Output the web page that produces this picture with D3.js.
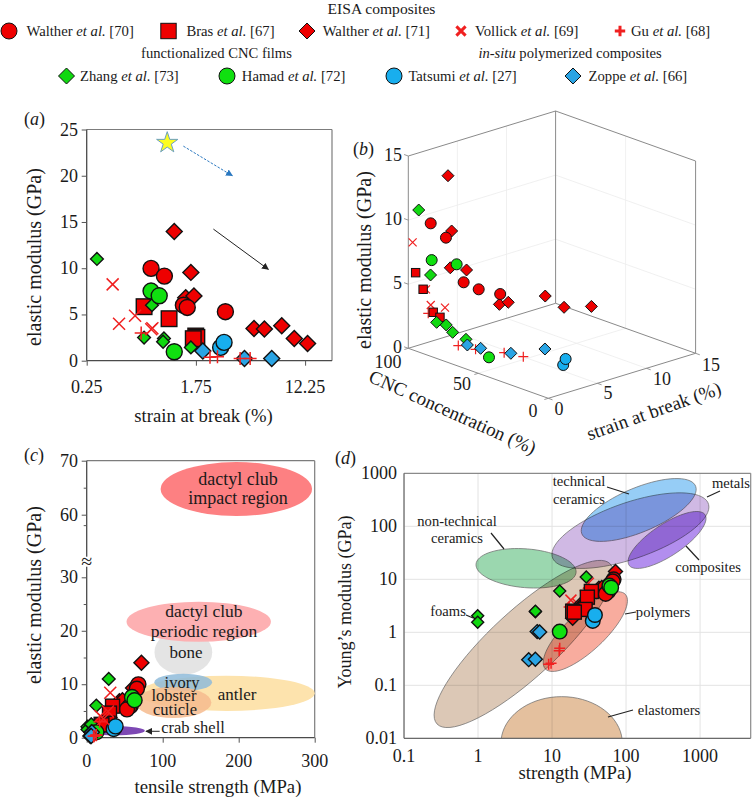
<!DOCTYPE html>
<html><head><meta charset="utf-8">
<script src="https://cdn.jsdelivr.net/npm/d3@7"></script>
<style>
html,body{margin:0;padding:0;background:#fff}
svg{display:block}
text{font-family:"Liberation Serif","Times New Roman",serif;fill:#1a1a1a}
</style></head><body>
<svg id="fig" width="754" height="797"></svg>
<script>
// ---------- series ----------
const orderBehind = ["vollick","gu","w71","w70","bras","zhang","hamad","zoppe","tatsumi"];
const orderOnTop = ["w71","w70","bras","zhang","hamad","zoppe","tatsumi","vollick","gu"];
const seriesAuthors = {w70:"Walther",bras:"Bras",w71:"Walther",vollick:"Vollick",gu:"Gu",zhang:"Zhang",hamad:"Hamad",tatsumi:"Tatsumi",zoppe:"Zoppe"};
const seriesRefs = {w70:"[70]",bras:"[67]",w71:"[71]",vollick:"[69]",gu:"[68]",zhang:"[73]",hamad:"[72]",tatsumi:"[27]",zoppe:"[66]"};
const seriesShape = {w70:"circle",bras:"square",w71:"diamond",vollick:"x",gu:"plus",zhang:"diamondS",hamad:"circle",tatsumi:"circle",zoppe:"diamond"};
const seriesColor = {w70:"#ee0000",bras:"#ee0000",w71:"#ee0000",vollick:"#f02020",gu:"#f02020",zhang:"#10d810",hamad:"#10e010",tatsumi:"#18aeee",zoppe:"#2aa4e4"};

// panel (a): [strain at break %, elastic modulus GPa]
const aW70 = [[0.787,9.98],[0.998,9.15],[1.40,6.0],[1.50,5.76],[2.96,5.3]];
const aBras = [[0.695,5.84],[1.085,4.54],[1.745,2.67],[1.78,2.52],[1.67,2.38]];
const aW71 = [[1.19,13.98],[1.60,9.55],[1.46,6.8],[1.69,6.99],[4.93,3.49],[5.93,3.42],[8.08,3.78],[10.1,2.41],[12.8,1.87]];
const aVollick = [[0.397,8.25],[0.445,4.0],[0.592,4.86],[0.806,3.5],[0.79,3.4]];
const aGu = [[0.66,3.0],[2.25,0.36],[2.57,0.43],[3.85,0.25],[4.6,0.25]];
const aZhang = [[0.30,11.0],[0.80,6.0],[0.695,2.5],[0.99,2.4],[0.975,2.05],[1.6,1.44]];
const aHamad = [[0.787,7.53],[0.91,7.02],[1.19,0.97]];
const aTatsumi = [[2.72,1.44],[2.89,1.98]];
const aZoppe = [[1.98,1.04],[4.16,0.25],[6.76,0.25]];
const aStar = [1.05,23.56];
const aArrowBlue = [[1.40,23.2],[3.35,20.0]];
const aArrowBlack = [[2.39,14.23],[6.37,9.87]];

// panel (b): [CNC %, strain %, modulus GPa]
const bW70 = [[89.4,0.77,9.98],[80.4,1.04,9.15],[70,1.36,6.0],[60.8,1.58,5.76],[55,2.94,5.3]];
const bBras = [[98.4,0.52,5.84],[96,0.94,4.54],[93.7,1.64,2.67],[89.8,1.77,2.4]];
const bW71 = [[79.5,1.12,14],[80.9,1.69,9.5],[79,1.28,6.8],[68.5,1.44,7],[69,4.86,3.5],[69.7,5.86,3.4],[59,8.1,3.78],[59.6,10.1,2.41],[59,12.8,1.87]];
const bVollick = [[98.8,0.27,8.25],[90.6,0.46,4.86],[89.5,0.79,3.6],[83.4,1.37,3.5]];
const bGu = [[89.7,0.56,3.0],[80.5,2.31,0.43],[71.8,2.83,0.36],[60.3,4.1,0.25],[49.7,4.54,0.25]];
const bZhang = [[93.6,0.15,11],[88.8,0.67,6],[84.1,0.62,2.5],[79.5,0.94,2.4],[74.3,0.85,2.05],[70.8,1.71,1.44]];
const bHamad = [[83.3,0,7.53],[77.6,1.73,7.02],[50.3,1.13,0.97]];
const bTatsumi = [[11.1,3.1,1.44],[9.3,3.09,1.98]];
const bZoppe = [[71.7,1.98,0.9],[61.8,1.92,1.04],[57.4,4.37,0.25],[50.8,6.9,0.25]];

// panels (c) and (d): [tensile strength MPa, modulus GPa]
const sW70 = [[68,9.98],[66,9.15],[58,6.0],[56,5.76],[53,5.3]];
const sBras = [[34,5.9],[30,4.6],[28,2.7],[19,2.5],[20,2.4]];
const sW71 = [[72,14],[61,9.3],[43,6.8],[47,7],[25,3.5],[24,3.0],[30,3.8],[20,2.4],[19,1.85]];
const sVollick = [[18,4.05],[31,8.4],[28,4.9],[22,3.5]];
const sGu = [[12.7,0.5],[12.5,0.45],[9,0.25],[9.7,0.26],[17,3]];
const sZhang = [[0.99,2.06],[0.99,1.54],[5.96,2.45],[5.96,2.5],[12.7,6],[29,11]];
const sHamad = [[12.7,1.03],[59.6,7.6],[63,7]];
const sTatsumi = [[35.5,1.64],[38,2.12]];
const sZoppe = [[6.3,1.03],[6.8,1.01],[4.84,0.305],[5.95,0.31]];

// panel (c) biological regions: name, centre x MPa, centre y GPa, half-width, half-height
const cRegions = [
  {k:"antler",x:184,y:8.3,rx:116,ry:3.3,c:"#fde3ad"},
  {k:"impact",x:196.9,y:64.75,rx:99.6,ry:5.37,c:"#fd8082"},
  {k:"bone",x:127.2,y:16,rx:38,ry:4.2,c:"#e4e4e4"},
  {k:"periodic",x:147.4,y:21.7,rx:95,ry:3.74,c:"#fdb0b2"},
  {k:"ivory",x:127,y:10.35,rx:38,ry:1.6,c:"#8fbbd9"},
  {k:"lobster",x:114,y:6.6,rx:50,ry:2.9,c:"#f6bb8e"},
  {k:"crab",x:37,y:1.3,rx:39.5,ry:0.87,c:"#7d48b4"}
];
const cLabels = [
  ["dactyl club",238,485,18],["impact region",238,504,18],
  ["dactyl club",204,617,17.5],["periodic region",204,637,17.5],
  ["bone",186,658,17],["ivory",182,688,16.5],["antler",237,700,17],
  ["lobster",174,701,16.5],["cuticle",175,715,16.5],["crab shell",193,733,16.5]
];
const cTicks = [0,10,20,30,60,70];
const cMinor = [5,15,25,55,65];

// panel (d) materials: centre in log10 units with two semi-axis vectors (decades)
const dRegions = [
  {k:"nontech",cx:0.649,cy:1.208,a:[0.676,-0.075],b:[0.018,0.365],c:"rgb(155,215,175)"},
  {k:"metals",cx:2.059,cy:1.918,a:[1.045,0.535],b:[-0.18,0.472],c:"rgb(208,185,228)"},
  {k:"tech",cx:2.171,cy:2.308,a:[0.743,0.503],b:[-0.225,0.314],c:"rgb(150,205,246)"},
  {k:"composites",cx:2.554,cy:1.742,a:[0.495,0.503],b:[-0.18,0.189],c:"rgb(178,142,238)"},
  {k:"foams",cx:0.617,cy:-0.22,a:[1.171,1.509],b:[-0.306,0.459],c:"rgb(220,200,182)"},
  {k:"polymers",cx:1.45,cy:0.013,a:[0.54,0.704],b:[-0.18,0.264],c:"rgb(248,172,158)"},
  {k:"elastomers",cx:1.13,cy:-2.094,a:[0.82,0],b:[0,0.88],c:"rgb(228,192,158)"}
];
const dTickVals = [0.1,1,10,100,1000];
const dYTickVals = [0.01,0.1,1,10,100,1000];

// ---------- layout ----------
const svg = d3.select("#fig");
const FRAME = "#7c7c7c";
const AXIS = "#4a4a4a";
const TICK = 18;

function addMarker(id,color){
  svg.append("defs").append("marker").attr("id",id).attr("viewBox","0 0 10 10").attr("refX",9).attr("refY",5)
    .attr("markerWidth",7).attr("markerHeight",7).attr("markerUnits","userSpaceOnUse").attr("orient","auto")
    .append("path").attr("d","M0,0L10,5L0,10z").attr("fill",color);
}
addMarker("arBlue","#2a78c0"); addMarker("arBlack","#222");

function drawMark(g,key,x,y,s){
  const shape=seriesShape[key], col=seriesColor[key], sw=s.sw||1.4;
  if(shape==="circle"){
    g.append("circle").attr("cx",x).attr("cy",y).attr("r",s.r).attr("fill",col).attr("stroke","#111").attr("stroke-width",sw);
  } else if(shape==="square"){
    g.append("rect").attr("x",x-s.q).attr("y",y-s.q).attr("width",2*s.q).attr("height",2*s.q).attr("fill",col).attr("stroke","#111").attr("stroke-width",sw);
  } else if(shape==="diamond"||shape==="diamondS"){
    const d=shape==="diamond"?s.d:s.ds;
    g.append("path").attr("d",`M${x},${y-d}L${x+d},${y}L${x},${y+d}L${x-d},${y}Z`).attr("fill",col).attr("stroke","#111").attr("stroke-width",sw);
  } else if(shape==="x"){
    const d=s.x;
    g.append("path").attr("d",`M${x-d},${y-d}L${x+d},${y+d}M${x-d},${y+d}L${x+d},${y-d}`).attr("fill","none").attr("stroke",col).attr("stroke-width",s.lw||1.6);
  } else {
    const d=s.p;
    g.append("path").attr("d",`M${x-d},${y}L${x+d},${y}M${x},${y-d}L${x},${y+d}`).attr("fill","none").attr("stroke",col).attr("stroke-width",s.lw||1.6);
  }
}
function plotSeries(g,order,tbl,px,py,s){
  order.forEach(k=>tbl[k].forEach(d=>drawMark(g,k,px(d),py(d),s)));
}
function txt(x,y,str,size,anchor,rot){
  const t=svg.append("text").attr("x",x).attr("y",y).attr("font-size",size).attr("text-anchor",anchor||"middle").text(str);
  if(rot!=null) t.attr("transform",`rotate(${rot} ${x} ${y})`);
  return t;
}
function panelTag(x,y,l){
  const t=svg.append("text").attr("x",x).attr("y",y).attr("font-size",18);
  t.append("tspan").text("(");t.append("tspan").attr("font-style","italic").text(l);t.append("tspan").text(")");
}
function seg(x1,y1,x2,y2,col,w){
  svg.append("line").attr("x1",x1).attr("y1",y1).attr("x2",x2).attr("y2",y2).attr("stroke",col).attr("stroke-width",w);
}
function boxAxes(P,col1,col2){
  seg(P.l,P.t,P.r,P.t,col1,1.2); seg(P.r,P.t,P.r,P.b,col1,1.2);
  seg(P.l,P.t,P.l,P.b,col2,1.3); seg(P.l,P.b,P.r,P.b,col2,1.3);
}
function styleAxis(g){ g.select(".domain").remove(); g.selectAll("line").attr("stroke","#555"); g.selectAll("text").remove(); }

// ---------- legend ----------
const legS={r:8,q:7.7,d:8,ds:8,x:4.6,p:5.2,lw:3,sw:1};
const legendRow1=[["w70",9,26.5],["bras",168.5,186.4],["w71",307,322.7],["vollick",461,475],["gu",620,631]];
const legendRow3=[["zhang",66.5,80],["hamad",227,241.8],["tatsumi",394,408.4],["zoppe",573,588.5]];
const lg=svg.append("g");
function legendRow(row,y){
  row.forEach(([k,mx,tx])=>{
    drawMark(lg,k,mx,y,legS);
    const t=lg.append("text").attr("x",tx).attr("y",y+4.5).attr("font-size",14.7);
    t.append("tspan").text(seriesAuthors[k]+" ");
    t.append("tspan").attr("font-style","italic").text("et al.");
    t.append("tspan").text(" "+seriesRefs[k]);
  });
}
txt(381.5,14,"EISA composites",15.6);
legendRow(legendRow1,31);
txt(216.5,58,"functionalized CNC films",14.6);
{const t=txt(570,58,"",14.6);t.append("tspan").attr("font-style","italic").text("in-situ");t.append("tspan").text(" polymerized composites");}
legendRow(legendRow3,76);

// ---------- panel (a) ----------
const A={l:86.7,r:332,t:129.5,b:360.7};
const ax=d3.scaleLog().base(7).domain([0.25,0.25*Math.pow(7,(A.r-A.l)/109.2)]).range([A.l,A.r]);
const ay=d3.scaleLinear().domain([0,25]).range([A.b,A.t]);
boxAxes(A,FRAME,AXIS);
const aXTicks=[0.25,1.75,12.25], aYTicks=[0,5,10,15,20,25];
svg.append("g").attr("transform",`translate(0,${A.b})`).call(d3.axisBottom(ax).tickValues(aXTicks).tickSize(5)).call(styleAxis);
svg.append("g").attr("transform",`translate(${A.l},0)`).call(d3.axisLeft(ay).tickValues(aYTicks).tickSize(5)).call(styleAxis);
aXTicks.forEach(v=>txt(ax(v),393,d3.format(".2f")(v),TICK));
aYTicks.forEach(v=>txt(78,ay(v)+6,v,TICK,"end"));
txt(203.5,422,"strain at break (%)",18.7);
txt(41,257,"elastic modulus (GPa)",20,"middle",-90);
panelTag(24,125,"a");
const aTbl={w70:aW70,bras:aBras,w71:aW71,vollick:aVollick,gu:aGu,zhang:aZhang,hamad:aHamad,tatsumi:aTatsumi,zoppe:aZoppe};
plotSeries(svg.append("g"),orderOnTop,aTbl,d=>ax(d[0]),d=>ay(d[1]),{r:8,q:7.8,d:8,ds:6.4,x:6,p:6.5,lw:1.5,sw:1.4});
svg.append("path").attr("d",d3.symbol(d3.symbolStar,140)()).attr("transform",`translate(${ax(aStar[0])},${ay(aStar[1])})`)
  .attr("fill","#fdfd20").attr("stroke","#6a9fc0").attr("stroke-width",1);
svg.append("line").attr("x1",ax(aArrowBlue[0][0])).attr("y1",ay(aArrowBlue[0][1])).attr("x2",ax(aArrowBlue[1][0])).attr("y2",ay(aArrowBlue[1][1]))
  .attr("stroke","#2a78c0").attr("stroke-width",1).attr("stroke-dasharray","2.5,1.5").attr("marker-end","url(#arBlue)");
svg.append("line").attr("x1",ax(aArrowBlack[0][0])).attr("y1",ay(aArrowBlack[0][1])).attr("x2",ax(aArrowBlack[1][0])).attr("y2",ay(aArrowBlack[1][1]))
  .attr("stroke","#222").attr("stroke-width",1).attr("marker-end","url(#arBlack)");

// ---------- panel (b) ----------
const bO={x:548.3,y:398.3};
const cDX=d3.scaleLinear().domain([0,100]).range([0,-140]);
const cDY=d3.scaleLinear().domain([0,100]).range([0,-50]);
const sDX=d3.scaleLinear().domain([0,15]).range([0,147.3]);
const sDY=d3.scaleLinear().domain([0,15]).range([0,-45]);
const mDY=d3.scaleLinear().domain([0,15]).range([0,-192.3]);
const bX=(c,s)=>bO.x+cDX(c)+sDX(s);
const bY=(c,s,m)=>bO.y+cDY(c)+sDY(s)+mDY(m);
const bg=svg.append("g");
function L3(p,q,col,w){bg.append("line").attr("x1",bX(p[0],p[1])).attr("y1",bY(...p)).attr("x2",bX(q[0],q[1])).attr("y2",bY(...q)).attr("stroke",col).attr("stroke-width",w);}
const bGrid="#ececec";
[5,10].forEach(m=>{L3([100,0,m],[100,15,m],bGrid,.8);L3([100,15,m],[0,15,m],bGrid,.8);});
[5,10].forEach(s=>{L3([100,s,0],[100,s,15],bGrid,.8);L3([100,s,0],[0,s,0],bGrid,.8);});
L3([50,15,0],[50,15,15],bGrid,.8);L3([50,0,0],[50,15,0],bGrid,.8);
const bEdge="#8a8a8a";
L3([100,0,0],[100,0,15],bEdge,1);L3([100,15,0],[100,15,15],bEdge,1);L3([0,15,0],[0,15,15],bEdge,1);
L3([100,0,15],[100,15,15],bEdge,1);L3([100,15,15],[0,15,15],bEdge,1);
L3([100,0,0],[100,15,0],bEdge,1);L3([100,15,0],[0,15,0],bEdge,1);L3([100,0,0],[0,0,0],bEdge,1);L3([0,0,0],[0,15,0],bEdge,1);
[0,50,100].forEach(c=>L3([c,0,0],[c,-0.4,0],bEdge,.9));
[0,5,10,15].forEach(s=>L3([0,s,0],[-3,s,0],bEdge,.9));
[0,5,10,15].forEach(m=>L3([100,0,m],[103,0,m],bEdge,.9));
const bTbl={w70:bW70,bras:bBras,w71:bW71,vollick:bVollick,gu:bGu,zhang:bZhang,hamad:bHamad,tatsumi:bTatsumi,zoppe:bZoppe};
plotSeries(bg,orderBehind,bTbl,d=>bX(d[0],d[1]),d=>bY(d[0],d[1],d[2]),{r:5.5,q:4.2,d:6,ds:6,x:4,p:5,lw:1.2,sw:1});
const bM=[0,5,10,15];
bM.forEach(m=>txt(402,bY(100,0,m)+5,m,TICK,"end"));
[[100,388,368],[50,462,390],[0,533,417]].forEach(([v,x,y])=>txt(x,y,v,TICK));
[[0,559,415],[5,608,399],[10,662,385],[15,711,371]].forEach(([v,x,y])=>txt(x,y,v,TICK));
txt(371,260,"elastic modulus (GPa)",20,"middle",-90);
txt(450,418,"CNC concentration (%)",19,"middle",24);
txt(656,417,"strain at break (%)",19,"middle",-19.5);
panelTag(353,155,"b");

// ---------- panel (c) ----------
const C={l:86.7,r:314.7,t:460.7,b:737.7};
const cx=d3.scaleLinear().domain([0,300]).range([C.l,C.r]);
const cy=d3.scaleLinear().domain([0,30,60,70]).range([C.b,577.3,514.7,460.7]);
const breakY=561.7;
boxAxes(C,FRAME,AXIS);
svg.append("g").attr("transform",`translate(0,${C.b})`).call(d3.axisBottom(cx).tickValues([0,100,200,300]).tickSize(5)).call(styleAxis);
svg.append("g").attr("transform",`translate(${C.l},0)`).call(d3.axisLeft(cy).tickValues(cTicks).tickSize(5)).call(styleAxis);
svg.append("g").attr("transform",`translate(${C.l},0)`).call(d3.axisLeft(cy).tickValues(cMinor).tickSize(3)).call(styleAxis);
svg.append("rect").attr("x",C.l-5).attr("y",breakY-5).attr("width",10).attr("height",10).attr("fill","#fff");
txt(C.l,breakY+6,"≈",20,"middle");
[0,100,200,300].forEach(v=>txt(cx(v),767,v,TICK));
cTicks.forEach(v=>txt(78,cy(v)+6,v,TICK,"end"));
txt(218,793,"tensile strength (MPa)",18.8);
txt(41,595,"elastic modulus (GPa)",20,"middle",-90);
panelTag(24,461,"c");
cRegions.forEach(r=>svg.append("ellipse")
  .attr("cx",cx(r.x)).attr("cy",cy(r.y))
  .attr("rx",cx(r.x+r.rx)-cx(r.x)).attr("ry",cy(r.y-r.ry)-cy(r.y))
  .attr("fill",r.c).attr("fill-opacity",r.k==="ivory"||r.k==="lobster"?.85:1));
cLabels.forEach(([s,x,y,f])=>txt(x,y,s,f));
svg.append("line").attr("x1",cx(96)).attr("y1",cy(1.2)).attr("x2",cx(78)).attr("y2",cy(1.2)).attr("stroke","#222").attr("stroke-width",1).attr("marker-end","url(#arBlack)");
const sTbl={w70:sW70,bras:sBras,w71:sW71,vollick:sVollick,gu:sGu,zhang:sZhang,hamad:sHamad,tatsumi:sTatsumi,zoppe:sZoppe};
plotSeries(svg.append("g"),orderOnTop,sTbl,d=>cx(d[0]),d=>cy(d[1]),{r:7.5,q:7,d:7.5,ds:6.4,x:6,p:6,lw:1.5,sw:1.4});

// ---------- panel (d) ----------
const D={l:404,r:750.7,t:473.3,b:738.3};
const dx=d3.scaleLog().domain([0.1,Math.pow(10,3.684)]).range([D.l,D.r]);
const dy=d3.scaleLog().domain([0.01,1000]).range([D.b,D.t]);
svg.append("clipPath").attr("id","dclip").append("rect").attr("x",D.l).attr("y",D.t).attr("width",D.r-D.l).attr("height",D.b-D.t);
const dg=svg.append("g").attr("clip-path","url(#dclip)");
dg.append("rect").attr("x",D.l).attr("y",D.t).attr("width",D.r-D.l).attr("height",D.b-D.t).attr("fill","#fff");
dTickVals.forEach(v=>dg.append("line").attr("x1",dx(v)).attr("x2",dx(v)).attr("y1",D.t).attr("y2",D.b).attr("stroke","#e3e3e3"));
dYTickVals.forEach(v=>dg.append("line").attr("x1",D.l).attr("x2",D.r).attr("y1",dy(v)).attr("y2",dy(v)).attr("stroke","#e3e3e3"));
dRegions.forEach(r=>{
  const pts=d3.range(0,72).map(i=>{
    const t=i/72*2*Math.PI;
    const lx=r.cx+r.a[0]*Math.cos(t)+r.b[0]*Math.sin(t);
    const ly=r.cy+r.a[1]*Math.cos(t)+r.b[1]*Math.sin(t);
    return [dx(Math.pow(10,lx)),dy(Math.pow(10,ly))];
  });
  dg.append("path").attr("d",d3.line().curve(d3.curveCardinalClosed)(pts)).attr("fill",r.c)
    .style("mix-blend-mode","multiply")
    .attr("stroke","#6f6f6f").attr("stroke-opacity",.75).attr("stroke-width",1);
});
boxAxes(D,"#8a8a8a","#6a6a6a");
dTickVals.forEach(v=>txt(dx(v),762,v,TICK));
dYTickVals.forEach(v=>txt(397,dy(v)+6,v,TICK,"end"));
txt(575,779,"strength (MPa)",18.8);
txt(351,602,"Young’s modulus (GPa)",18,"middle",-90);
panelTag(335,464,"d");
const dLabels=[["technical",579,486],["ceramics",579,504],["metals",731,488],["non-technical",457,526],["ceramics",457,543],
  ["composites",708,572],["foams",448,616],["polymers",663,617],["elastomers",669,715]];
dLabels.forEach(([s,x,y])=>txt(x,y,s,14.6));
const dLeaders=[[607,487,629,494],[720,491,707,497],[491,533,504,549],[699,560,686,546],[466,615,473,618],[636,612,625,614],[633,710,608,717]];
dLeaders.forEach(a=>seg(a[0],a[1],a[2],a[3],"#222",1.2));
plotSeries(svg.append("g"),orderBehind,sTbl,d=>dx(d[0]),d=>dy(d[1]),{r:7.3,q:7,d:7,ds:6,x:5.5,p:5.5,lw:1.5,sw:1.4});
</script>
</body></html>
